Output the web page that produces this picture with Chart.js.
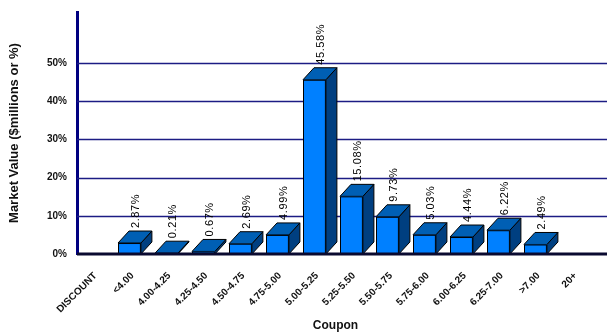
<!DOCTYPE html>
<html>
<head>
<meta charset="utf-8">
<script src="https://cdn.jsdelivr.net/npm/chart.js@4.4.1/dist/chart.umd.min.js"></script>
<style>
    html, body { margin: 0; padding: 0; background: #fff; }
    #wrap { width: 607px; height: 333px; position: relative; }
</style>
</head>
<body>
<div id="wrap"><canvas id="chart"></canvas></div>
<script>
// Coupon buckets and share of market value (%)
const categorias = ['DISCOUNT', '<4.00', '4.00-4.25', '4.25-4.50', '4.50-4.75', '4.75-5.00',
    '5.00-5.25', '5.25-5.50', '5.50-5.75', '5.75-6.00', '6.00-6.25', '6.25-7.00', '>7.00', '20+'];
const valores = [null, 2.87, 0.21, 0.67, 2.69, 4.99, 45.58, 15.08, 9.73, 5.03, 4.44, 6.22, 2.49, null];
const etiquetas = ['', '2.87%', '0.21%', '0.67%', '2.69%', '4.99%', '45.58%', '15.08%', '9.73%',
    '5.03%', '4.44%', '6.22%', '2.49%', ''];
const ticksY = [0, 10, 20, 30, 40, 50];

const FONT = 'Arial, "Liberation Sans", sans-serif';
const DX = 11, DY = 12;

/**
 * Draws grid lines (extended to the right edge), the floor line,
 * 3D bars and the rotated value labels
 */
const bar3d = {
    id: 'bar3d',
    beforeDatasetsDraw(chart) {
        const { ctx, chartArea, scales } = chart;
        ctx.save();
        ctx.strokeStyle = '#1c1c84';
        ctx.lineWidth = 1.5;
        ticksY.forEach(t => {
            if (t === 0) return;
            const y = Math.round(scales.y.getPixelForValue(t)) + 0.5;
            ctx.beginPath();
            ctx.moveTo(chartArea.left, y);
            ctx.lineTo(chart.width, y);
            ctx.stroke();
        });
        ctx.restore();
    },
    afterDatasetsDraw(chart) {
        const { ctx, scales } = chart;
        const meta = chart.getDatasetMeta(0);
        ctx.save();
        ctx.lineWidth = 1;
        ctx.strokeStyle = '#000';
        meta.data.forEach((el, i) => {
            if (valores[i] === null) return;
            const w = el.width;
            const x0 = Math.round(el.x - w / 2 - DX / 2 + 2.5);
            const x1 = x0 + w;
            const top = el.y;
            const base = scales.y.getPixelForValue(0);

            // side face
            ctx.fillStyle = '#003f80';
            ctx.beginPath();
            ctx.moveTo(x1, base);
            ctx.lineTo(x1 + DX, base - DY);
            ctx.lineTo(x1 + DX, top - DY);
            ctx.lineTo(x1, top);
            ctx.closePath();
            ctx.fill();
            ctx.stroke();

            // top face
            ctx.fillStyle = '#005fb4';
            ctx.beginPath();
            ctx.moveTo(x0, top);
            ctx.lineTo(x0 + DX, top - DY);
            ctx.lineTo(x1 + DX, top - DY);
            ctx.lineTo(x1, top);
            ctx.closePath();
            ctx.fill();
            ctx.stroke();

            // front face
            ctx.fillStyle = '#0080ff';
            ctx.fillRect(x0, top, w, base - top);
            ctx.strokeRect(x0 + 0.5, top + 0.5, w - 1, base - top - 1);

            // value label
            ctx.save();
            ctx.translate(x0 + w / 2 + DX / 2 + 1, top - DY - 3);
            ctx.rotate(-Math.PI / 2);
            ctx.fillStyle = '#000';
            ctx.font = '11px ' + FONT;
            ctx.letterSpacing = '0.6px';
            ctx.textAlign = 'left';
            ctx.textBaseline = 'middle';
            ctx.fillText(etiquetas[i], 0, 0);
            ctx.restore();
        });

        // floor line
        const yb = scales.y.getPixelForValue(0);
        ctx.strokeStyle = '#0a0a30';
        ctx.lineWidth = 3;
        ctx.beginPath();
        ctx.moveTo(chart.chartArea.left, yb);
        ctx.lineTo(chart.width, yb);
        ctx.stroke();
        ctx.restore();
    }
};

new Chart(document.getElementById('chart'), {
    type: 'bar',
    data: {
        labels: categorias,
        datasets: [{
            data: valores,
            backgroundColor: 'rgba(0,0,0,0)',
            borderWidth: 0,
            barPercentage: 0.62,
            categoryPercentage: 1
        }]
    },
    options: {
        responsive: true,
        maintainAspectRatio: false,
        animation: false,
        layout: { padding: { top: 12, right: 13, left: 0, bottom: 0 } },
        plugins: {
            legend: { display: false },
            tooltip: { enabled: false }
        },
        scales: {
            y: {
                min: 0,
                max: 63.3,
                afterFit: (s) => { s.width = 77; },
                afterBuildTicks: (s) => { s.ticks = ticksY.map(v => ({ value: v })); },
                grid: { display: false },
                border: { display: true, color: '#000080', width: 3 },
                ticks: {
                    color: '#111',
                    padding: 2,
                    font: { family: FONT, size: 10, weight: 'bold' },
                    callback: (v) => v + '%'
                },
                title: {
                    display: true,
                    text: 'Market Value ($millions or %)',
                    color: '#111',
                    padding: { top: 7, bottom: 0 },
                    font: { family: FONT, size: 13, weight: 'bold' }
                }
            },
            x: {
                afterFit: (s) => { s.height = 79; },
                grid: { display: false },
                border: { display: false },
                ticks: {
                    color: '#111',
                    minRotation: 45,
                    maxRotation: 45,
                    padding: 8,
                    autoSkip: false,
                    font: { family: FONT, size: 10, weight: 'bold' }
                },
                title: {
                    display: true,
                    text: 'Coupon',
                    color: '#111',
                    padding: { top: 0, bottom: 0 },
                    font: { family: FONT, size: 12, weight: 'bold' }
                }
            }
        }
    },
    plugins: [bar3d]
});
</script>
</body>
</html>
